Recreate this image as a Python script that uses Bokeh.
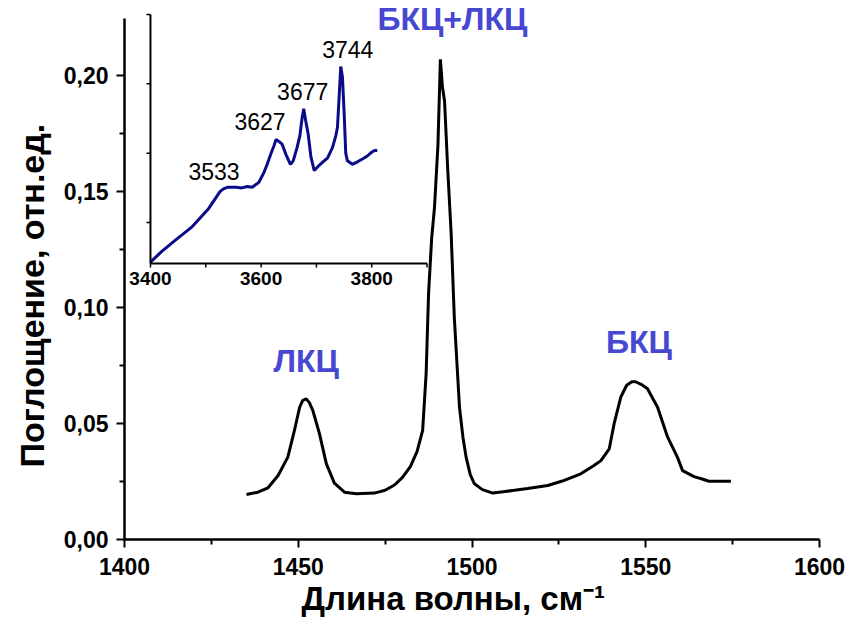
from bokeh.plotting import figure
from bokeh.models import (Range1d, FixedTicker, CustomJSTickFormatter, Label, Title)
from bokeh.core.properties import value
from bokeh.embed import file_html
from bokeh.resources import INLINE

# ---- main IR spectrum (pyridine bands region) ----
wavenumber = [1435.1, 1438.4, 1441.3, 1444.2, 1447.0, 1448.9, 1450.4, 1451.3, 1452.3,
              1453.2, 1454.2, 1456.1, 1458.1, 1460.4, 1463.3, 1466.7, 1471.9, 1475.0,
              1477.7, 1480.0, 1482.3, 1484.2, 1485.8, 1486.8, 1487.5, 1488.4, 1489.2,
              1490.2, 1490.9, 1491.5, 1492.1, 1493.0, 1494.0, 1494.9, 1496.4, 1497.4,
              1498.3, 1499.5, 1500.7, 1503.0, 1506.0, 1509.0, 1512.2, 1516.0, 1521.8,
              1526.0, 1531.3, 1535.0, 1537.1, 1539.5, 1540.9, 1542.8, 1544.5, 1546.0,
              1547.1, 1548.8, 1550.5, 1553.4, 1556.3, 1559.1, 1560.6, 1563.9, 1566.0,
              1568.2, 1574.5]
absorbance = [0.0194, 0.0204, 0.0223, 0.0276, 0.0355, 0.0470, 0.0570, 0.0600, 0.0606,
              0.0590, 0.0556, 0.0456, 0.0326, 0.0243, 0.0204, 0.0197, 0.0200, 0.0212,
              0.0235, 0.0268, 0.0315, 0.0380, 0.0470, 0.0715, 0.1060, 0.1300, 0.1430,
              0.1700, 0.2070, 0.1950, 0.1890, 0.1600, 0.1320, 0.0960, 0.0570, 0.0440,
              0.0355, 0.0280, 0.0240, 0.0215, 0.0200, 0.0206, 0.0212, 0.0220, 0.0233,
              0.0252, 0.0283, 0.0318, 0.0340, 0.0391, 0.0499, 0.0613, 0.0665, 0.0680,
              0.0680, 0.0668, 0.0650, 0.0570, 0.0441, 0.0355, 0.0297, 0.0271, 0.0262,
              0.0251, 0.0251]

# band names and the wavenumber windows in which each band's maximum lies
band_names = ["ЛКЦ", "БКЦ+ЛКЦ", "БКЦ"]
band_windows = [(1440, 1470), (1480, 1500), (1530, 1570)]

# ---- inset: OH stretching region ----
wavenumber_oh = [3400, 3420, 3444, 3474, 3505, 3526, 3533, 3540, 3555, 3565, 3575, 3584,
                 3596, 3605, 3611, 3618, 3623, 3627, 3632, 3638, 3645, 3653, 3658, 3665,
                 3670, 3674, 3677, 3681, 3685, 3690, 3696, 3703, 3711, 3720, 3729, 3735,
                 3738, 3741, 3744, 3747, 3750, 3753, 3756, 3765, 3775, 3784, 3792, 3799,
                 3805, 3810]
absorbance_oh = [0.143, 0.158, 0.174, 0.193, 0.220, 0.245, 0.249, 0.251, 0.251, 0.250,
                 0.252, 0.251, 0.258, 0.272, 0.284, 0.300, 0.310, 0.320, 0.317, 0.313,
                 0.298, 0.284, 0.289, 0.308, 0.325, 0.350, 0.364, 0.345, 0.328, 0.295,
                 0.275, 0.281, 0.287, 0.293, 0.308, 0.325, 0.337, 0.380, 0.425, 0.410,
                 0.360, 0.300, 0.289, 0.284, 0.288, 0.292, 0.296, 0.301, 0.304, 0.304]
oh_peaks = [3533, 3627, 3677, 3744]

x_ticks = [1400, 1450, 1500, 1550, 1600]
x_minor = [1425, 1475, 1525, 1575]
y_ticks = [0.0, 0.05, 0.10, 0.15, 0.20]
y_minor = [0.025, 0.075, 0.125, 0.175]
y_axis_top = 0.2246
oh_ticks = [3400, 3600, 3800]
oh_minor = [3500, 3700, 3900]
oh_yticks = [0.2, 0.3, 0.4, 0.5]

x_title = "Длина волны, см⁻¹"
y_title = "Поглощение, отн.ед."

# ---- layout constants (screen pixels) ----
W, H = 849, 625
FRAME_L, FRAME_R, FRAME_T, FRAME_B = 123, 819, 0, 539
PX_PER_005 = 116.0
INSET_L, INSET_R, INSET_T, INSET_B = 149, 426, 14, 263
OH_X0, OH_X1, OH_Y0, OH_Y1 = 3400, 3900, 0.141, 0.5

FONT = "Liberation Sans"
BAND_COLOR = "#4747d1"
INSET_COLOR = "#0b0b8a"

y_end = (FRAME_B - FRAME_T) / PX_PER_005 * 0.05

p = figure(width=W, height=H, x_range=Range1d(1400, 1600), y_range=Range1d(0, y_end),
           output_backend="svg", toolbar_location=None,
           min_border_left=FRAME_L, min_border_right=W - FRAME_R,
           min_border_top=FRAME_T, min_border_bottom=H - FRAME_B)
p.outline_line_color = None
p.grid.visible = False
p.background_fill_color = "white"
p.border_fill_color = "white"

# extra ranges so the inset box lands on its own sub-region of the frame
sx = (OH_X1 - OH_X0) / (INSET_R - INSET_L)
sy = (OH_Y1 - OH_Y0) / (INSET_B - INSET_T)
p.extra_x_ranges = {"oh_x": Range1d(OH_X0 - (INSET_L - FRAME_L) * sx,
                                    OH_X0 + (FRAME_R - INSET_L) * sx)}
p.extra_y_ranges = {"oh_y": Range1d(OH_Y0 - (FRAME_B - INSET_B) * sy,
                                    OH_Y0 + (INSET_B - FRAME_T) * sy)}

# ---- main axes ----
xa = p.xaxis[0]
xa.ticker = FixedTicker(ticks=x_ticks, minor_ticks=x_minor)
ya = p.yaxis[0]
ya.ticker = FixedTicker(ticks=y_ticks, minor_ticks=y_minor)
ya.formatter = CustomJSTickFormatter(code="return tick.toFixed(2).replace('.', ',');")
ya.bounds = (0, y_axis_top)
for ax in (xa, ya):
    ax.axis_line_width = 2.5
    ax.axis_line_color = "black"
    ax.major_tick_line_width = 2
    ax.minor_tick_line_width = 2
    ax.major_tick_in = 0
    ax.major_tick_out = 8
    ax.minor_tick_in = 0
    ax.minor_tick_out = 5
    ax.major_label_text_font = FONT
    ax.major_label_text_font_style = "bold"
    ax.major_label_text_font_size = "23px"
    ax.major_label_text_color = "black"
xa.major_label_standoff = 10
ya.major_label_standoff = 8

# axis titles as side titles, so they can be shifted along the axis
p.add_layout(Title(text=y_title, align="left", offset=72, standoff=20,
                   text_font=FONT, text_font_style="bold", text_font_size="34px",
                   text_color="black"), "left")
p.add_layout(Title(text=x_title, align="left", offset=177, standoff=0,
                   text_font=FONT, text_font_style="bold", text_font_size="33px",
                   text_color="black"), "below")

# ---- main spectrum ----
p.line(wavenumber, absorbance, line_color="black", line_width=3)

band_shift = [0, 12, 7]
band_lift = [20, 22, 22]
for name, (lo, hi), dx, dy in zip(band_names, band_windows, band_shift, band_lift):
    idx = [i for i, w in enumerate(wavenumber) if lo <= w <= hi]
    k = max(idx, key=lambda i: absorbance[i])
    p.add_layout(Label(x=wavenumber[k], y=absorbance[k], text=name,
                       x_offset=dx, y_offset=dy,
                       text_align="center", text_baseline="bottom",
                       text_font=FONT, text_font_style="bold",
                       text_font_size="32px", text_color=BAND_COLOR))

# ---- inset ----
R = dict(x_range_name="oh_x", y_range_name="oh_y")
p.line(wavenumber_oh, absorbance_oh, line_color=INSET_COLOR, line_width=3, **R)

# inset frame lines
p.segment(x0=[OH_X0, OH_X0], y0=[OH_Y0, OH_Y0], x1=[OH_X0, OH_X1], y1=[OH_Y1, OH_Y0],
          line_color="black", line_width=2, **R)
# inset ticks
tick_x = sorted(oh_ticks + oh_minor)
p.segment(x0=tick_x, y0=[OH_Y0] * len(tick_x), x1=tick_x,
          y1=[OH_Y0 - 4 * sy] * len(tick_x), line_color="black", line_width=1.5, **R)
p.segment(x0=[OH_X0] * len(oh_yticks), y0=oh_yticks,
          x1=[OH_X0 - 4 * sx] * len(oh_yticks), y1=oh_yticks,
          line_color="black", line_width=1.5, **R)
p.text(x=oh_ticks, y=[OH_Y0] * len(oh_ticks), text=[str(t) for t in oh_ticks],
       text_align="center", text_baseline="top", y_offset=8,
       text_font=value(FONT), text_font_style="bold", text_font_size="19px",
       text_color="black", **R)

# peak labels in the inset
peak_shift = {3533: -10, 3627: -16, 3677: -1, 3744: 7}
for wv in oh_peaks:
    yv = absorbance_oh[wavenumber_oh.index(wv)]
    p.add_layout(Label(x=wv, y=yv, text=str(wv), x_offset=peak_shift[wv], y_offset=9,
                       text_align="center", text_baseline="bottom",
                       text_font=FONT, text_font_size="23px", text_color="black", **R))

open("out.html", "w").write(file_html(p, INLINE))
